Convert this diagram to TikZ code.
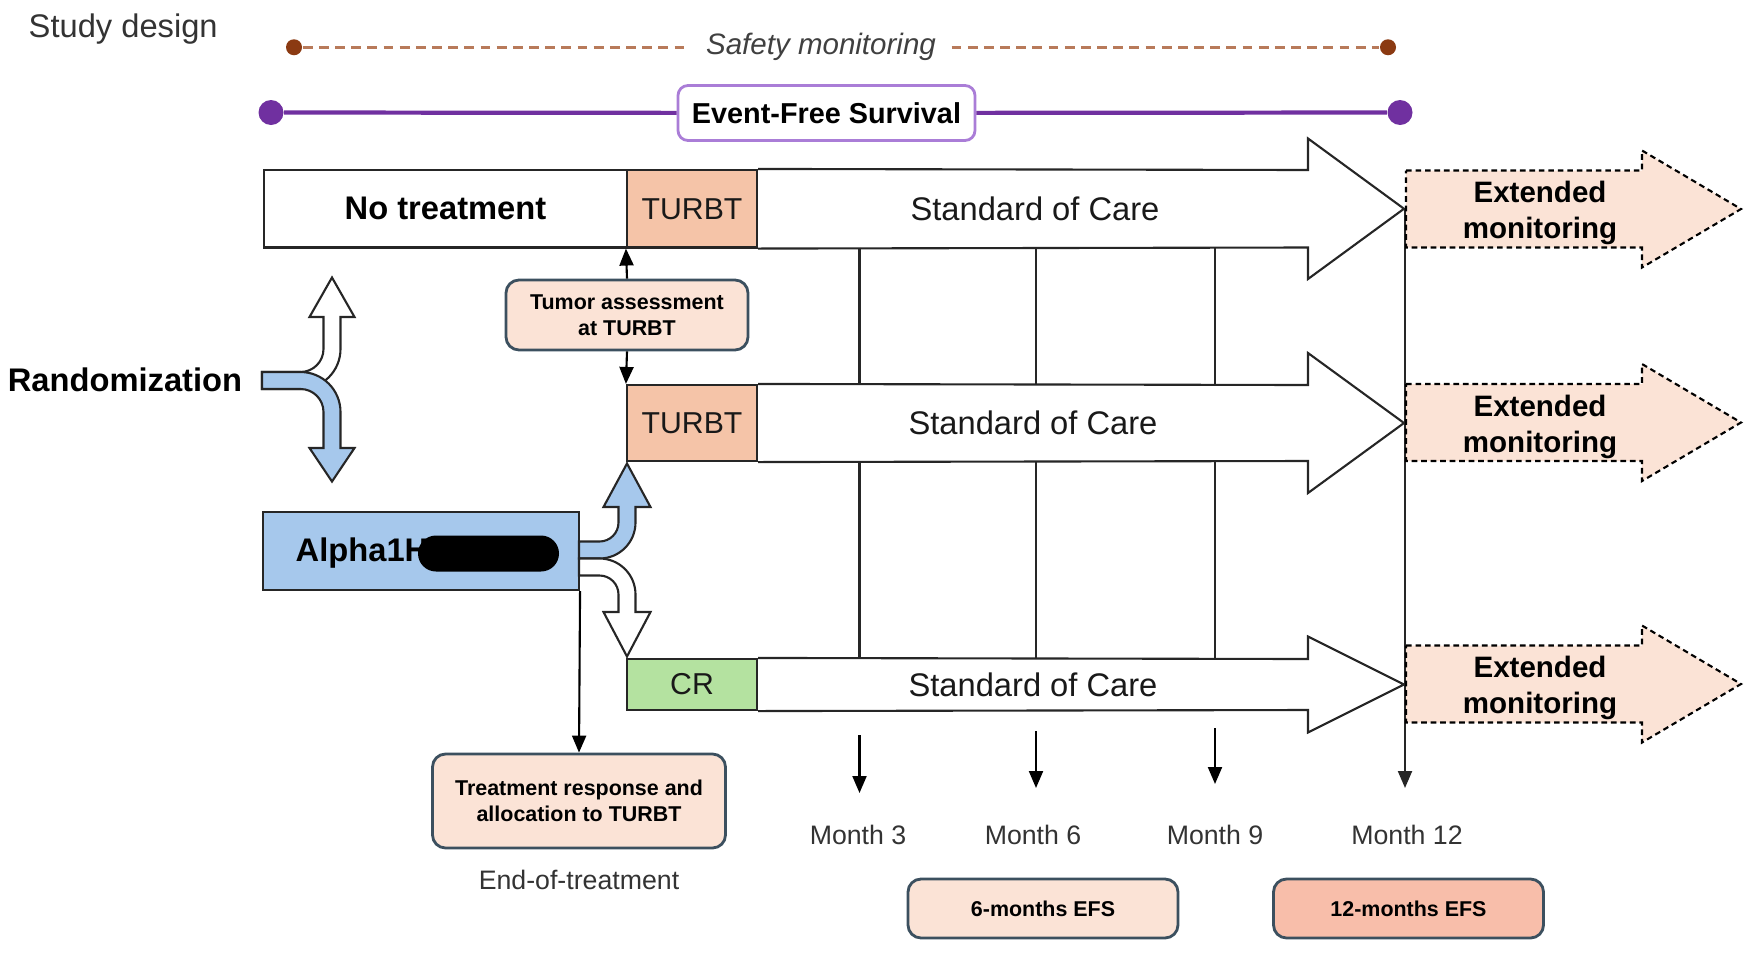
\documentclass[tikz,border=0pt]{standalone}
\usepackage{fontspec}
\setmainfont{Liberation Sans}
\definecolor{TurbtPeach} {RGB}{245,196,168}
\definecolor{CrGreen}    {RGB}{180,226,160}
\definecolor{AlphaBlue}  {RGB}{166,200,236}
\definecolor{LightPeach} {RGB}{251,227,214}
\definecolor{EfsSalmon}  {RGB}{248,190,170}
\definecolor{SafetyBrown}{RGB}{139,58,18}
\definecolor{SafetyDash} {RGB}{184,122,90}
\definecolor{EfsPurple}  {RGB}{112,48,160}
\definecolor{EfsBoxLine} {RGB}{170,125,215}
\definecolor{SlateLine}  {RGB}{60,80,95}
\usetikzlibrary{arrows.meta,positioning}

\begin{document}
\begin{tikzpicture}[x=1cm,y=-1cm,
  lbl/.style={font=\fontsize{9.3}{11}\selectfont,text=black!90},
  lblb/.style={font=\fontsize{9.3}{11}\selectfont\bfseries,text=black},
  cell/.style={draw=black!85,line width=0.6pt,inner sep=0pt,
               font=\fontsize{8.6}{10}\selectfont,text=black!90},
  monthtxt/.style={font=\fontsize{7.6}{9}\selectfont,text=black!80},
  note/.style={draw=SlateLine,line width=0.8pt,rounded corners=1.3mm,
               fill=LightPeach,align=center,inner sep=0pt,
               font=\fontsize{6.1}{7.3}\selectfont\bfseries},
  bigarrow/.style={draw=black!85,line width=0.6pt,fill=white},
  extarrow/.style={draw=black,line width=0.6pt,fill=LightPeach,
                   dash pattern=on 1.6pt off 1.1pt},
  exttxt/.style={font=\fontsize{8.4}{10.2}\selectfont\bfseries,align=center},
  splitarrow/.style={draw=black!85,line width=0.6pt},
  arr/.style={-{Triangle[length=1.7mm,width=1.4mm]},line width=0.6pt},
  vline/.style={line width=0.6pt,black!85},
  dot/.style={circle,inner sep=0pt}]
  \useasboundingbox (0,0) rectangle (17.64,9.55);

  %% Title
  \node[lbl,anchor=west,inner sep=0pt,text=black!80] (title) at (0.28,0.29)
       {Study design};

  %% Safety monitoring line
  \node[dot,fill=SafetyBrown,minimum size=1.6mm] (sdotL) at (2.94,0.4725) {};
  \node[dot,fill=SafetyBrown,minimum size=1.6mm] (sdotR) at (13.88,0.4725) {};
  \node[font=\fontsize{8.4}{10}\selectfont\itshape,text=black!75,
        inner sep=1.5mm] (safety) at (8.21,0.4725) {Safety monitoring};
  \draw[SafetyDash,line width=0.8pt,dash pattern=on 2.8pt off 1.8pt]
       (sdotL) -- (safety) -- (sdotR);

  %% Event-free survival line
  \node[dot,fill=EfsPurple,minimum size=2.5mm] (edotL) at (2.71,1.125) {};
  \node[dot,fill=EfsPurple,minimum size=2.5mm] (edotR) at (14.00,1.125) {};
  \node[draw=EfsBoxLine,line width=0.8pt,rounded corners=1mm,fill=white,
        minimum width=2.97cm,minimum height=0.55cm,inner sep=0pt,
        font=\fontsize{8.2}{10}\selectfont\bfseries] (efs) at (8.265,1.13)
       {Event-Free Survival};
  \draw[EfsPurple,line width=1.2pt] (edotL) -- (efs) -- (edotR);

  %% Month 12 line, behind the extended arrows
  \coordinate (tipA) at (14.05,2.0875);
  \coordinate (mtwelveEnd) at (14.05,7.88);
  \draw[arr,black!85] (tipA) -- (mtwelveEnd);

  %% Row 1 -- no treatment
  \node[cell,lblb,minimum width=3.63cm,minimum height=0.775cm] (notreat)
       at (4.455,2.0875) {No treatment};
  \node[cell,fill=TurbtPeach,minimum width=1.30cm,minimum height=0.775cm]
       (turbtA) at (6.92,2.0875) {TURBT};
  \draw[bigarrow] (turbtA.north east) -- (13.08,1.70) -- (13.08,1.385)
       -- (14.04,2.0875) -- (13.08,2.79) -- (13.08,2.475)
       -- (turbtA.south east);
  \node[lbl] (socA) at (10.35,2.0875) {Standard of Care};

  %% Row 2 -- TURBT
  \node[cell,fill=TurbtPeach,minimum width=1.30cm,minimum height=0.76cm]
       (turbtB) at (6.92,4.23) {TURBT};
  \draw[bigarrow] (turbtB.north east) -- (13.08,3.85) -- (13.08,3.53)
       -- (14.04,4.23) -- (13.08,4.93) -- (13.08,4.61)
       -- (turbtB.south east);
  \node[lbl] (socB) at (10.33,4.23) {Standard of Care};

  %% Row 3 -- complete response
  \node[cell,fill=CrGreen,minimum width=1.30cm,minimum height=0.51cm]
       (cr) at (6.92,6.845) {CR};
  \draw[bigarrow] (cr.north east) -- (13.08,6.59) -- (13.08,6.365)
       -- (14.04,6.845) -- (13.08,7.325) -- (13.08,7.10)
       -- (cr.south east);
  \node[lbl] (socC) at (10.33,6.845) {Standard of Care};

  %% Visit grid between rows
  \draw[vline] (8.595,2.475) -- (8.595,3.85);
  \draw[vline] (10.36,2.475) -- (10.36,3.85);
  \draw[vline] (12.15,2.475) -- (12.15,3.85);
  \draw[vline] (8.595,4.61) -- (8.595,6.59);
  \draw[vline] (10.36,4.61) -- (10.36,6.59);
  \draw[vline] (12.15,4.61) -- (12.15,6.59);

  %% Extended monitoring
  \draw[extarrow] (14.06,1.705) -- (16.42,1.705) -- (16.42,1.505)
       -- (17.41,2.09) -- (16.42,2.675) -- (16.42,2.475) -- (14.06,2.475) -- cycle;
  \node[exttxt] (extA) at (15.40,2.13) {Extended\\monitoring};
  \draw[extarrow] (14.06,3.84) -- (16.42,3.84) -- (16.42,3.64)
       -- (17.41,4.225) -- (16.42,4.81) -- (16.42,4.61) -- (14.06,4.61) -- cycle;
  \node[exttxt] (extB) at (15.40,4.265) {Extended\\monitoring};
  \draw[extarrow] (14.06,6.455) -- (16.42,6.455) -- (16.42,6.255)
       -- (17.41,6.84) -- (16.42,7.425) -- (16.42,7.225) -- (14.06,7.225) -- cycle;
  \node[exttxt] (extC) at (15.40,6.88) {Extended\\monitoring};

  %% Randomization split
  \node[lblb] (rand) at (1.25,3.80) {Randomization};
  \draw[splitarrow,fill=white] (2.62,3.89) -- (3.005,3.89)
       .. controls (3.226,3.89) and (3.405,3.711) .. (3.405,3.49)
       -- (3.405,3.17) -- (3.545,3.17) -- (3.32,2.775) -- (3.095,3.17)
       -- (3.235,3.17) -- (3.235,3.49)
       .. controls (3.235,3.617) and (3.132,3.72) .. (3.005,3.72)
       -- (2.62,3.72) -- cycle;
  \draw[splitarrow,fill=AlphaBlue] (2.62,3.72) -- (3.005,3.72)
       .. controls (3.226,3.72) and (3.405,3.899) .. (3.405,4.12)
       -- (3.405,4.48) -- (3.545,4.48) -- (3.32,4.815) -- (3.095,4.48)
       -- (3.235,4.48) -- (3.235,4.12)
       .. controls (3.235,3.993) and (3.132,3.89) .. (3.005,3.89)
       -- (2.62,3.89) -- cycle;

  %% Treatment arm
  \node[cell,fill=AlphaBlue,minimum width=3.16cm,minimum height=0.78cm]
       (alpha) at (4.21,5.51) {};
  \node[lblb,anchor=west,inner sep=0pt] (alphatxt) at (2.95,5.53) {Alpha1H};
  \node[fill=black,rounded corners=1.8mm,minimum width=1.41cm,
        minimum height=0.36cm,inner sep=0pt] (redact) at (4.885,5.535) {};
  \draw[splitarrow,fill=AlphaBlue] (5.79,5.415) -- (5.995,5.415)
       .. controls (6.100,5.415) and (6.185,5.330) .. (6.185,5.225)
       -- (6.185,5.07) -- (6.035,5.07) -- (6.27,4.635) -- (6.505,5.07)
       -- (6.355,5.07) -- (6.355,5.225)
       .. controls (6.355,5.424) and (6.194,5.585) .. (5.995,5.585)
       -- (5.79,5.585) -- cycle;
  \draw[splitarrow,fill=white] (5.79,5.755) -- (5.995,5.755)
       .. controls (6.100,5.755) and (6.185,5.840) .. (6.185,5.945)
       -- (6.185,6.12) -- (6.035,6.12) -- (6.27,6.565) -- (6.505,6.12)
       -- (6.355,6.12) -- (6.355,5.945)
       .. controls (6.355,5.746) and (6.194,5.585) .. (5.995,5.585)
       -- (5.79,5.585) -- cycle;

  %% Tumor assessment at TURBT
  \node[note,minimum width=2.42cm,minimum height=0.70cm] (tumor)
       at (6.27,3.15) {Tumor assessment\\at TURBT};
  \draw[arr] (tumor.north) -- (turbtA.south west);
  \draw[arr] (tumor.south) -- (turbtB.north west);

  %% End of treatment
  \node[note,minimum width=2.93cm,minimum height=0.94cm] (resp)
       at (5.79,8.01) {Treatment response and\\allocation to TURBT};
  \draw[arr] (alpha.south east) -- (resp.north);
  \node[monthtxt] (eot) at (5.79,8.80) {End-of-treatment};

  %% Visit months
  \coordinate (mthreeTop) at (8.595,7.35);
  \coordinate (mthreeEnd) at (8.595,7.93);
  \coordinate (msixTop) at (10.36,7.31);
  \coordinate (msixEnd) at (10.36,7.88);
  \coordinate (mnineTop) at (12.15,7.28);
  \coordinate (mnineEnd) at (12.15,7.84);
  \draw[arr] (mthreeTop) -- (mthreeEnd);
  \draw[arr] (msixTop) -- (msixEnd);
  \draw[arr] (mnineTop) -- (mnineEnd);
  \node[monthtxt] (mthree) at (8.58,8.35) {Month 3};
  \node[monthtxt] (msix) at (10.33,8.35) {Month 6};
  \node[monthtxt] (mnine) at (12.15,8.35) {Month 9};
  \node[monthtxt] (mtwelve) at (14.07,8.35) {Month 12};

  %% EFS endpoints
  \node[note,minimum width=2.70cm,minimum height=0.59cm] (efssix)
       at (10.43,9.085) {6-months EFS};
  \node[note,fill=EfsSalmon,minimum width=2.70cm,minimum height=0.59cm]
       (efstwelve) at (14.085,9.085) {12-months EFS};
\end{tikzpicture}
\end{document}
